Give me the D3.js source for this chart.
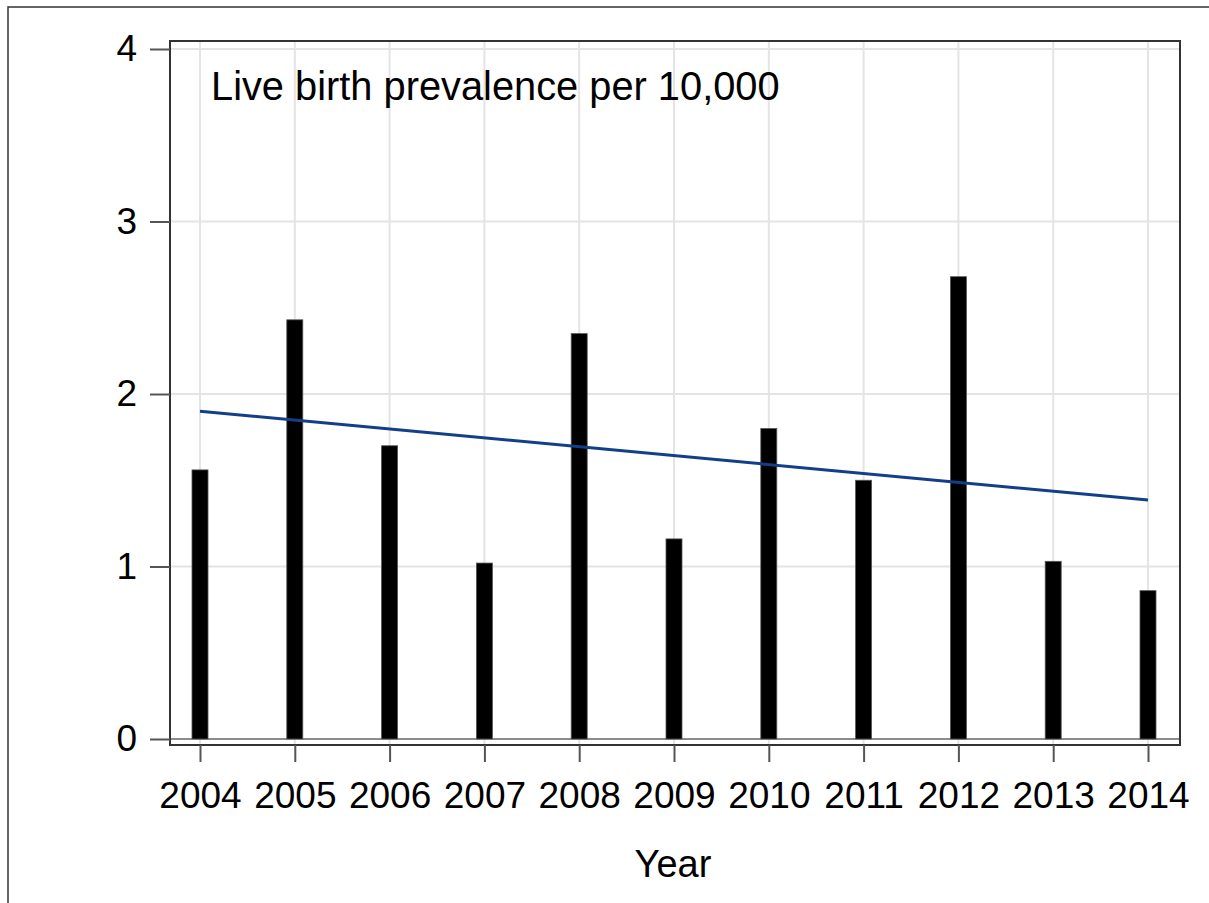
<!DOCTYPE html>
<html>
<head>
    <meta charset="utf-8">
    <title>Live birth prevalence per 10,000</title>
    <style type="text/css">
        body { margin: 0; background: #fff; }
        text { font-family: "Liberation Sans", Arial, sans-serif; fill: #000; }
        .grid line { stroke: #e4e4e4; stroke-width: 2; }
    </style>
</head>
<body>
<svg id="chart" width="1209" height="903"></svg>

<script src="https://cdn.jsdelivr.net/npm/d3@7"></script>
<script type="text/javascript">
    // data
    var years = [2004, 2005, 2006, 2007, 2008, 2009, 2010, 2011, 2012, 2013, 2014];
    var prevalence = [1.56, 2.43, 1.70, 1.02, 2.35, 1.16, 1.80, 1.50, 2.68, 1.03, 0.86];
    var trendYears = [2004, 2014];
    var trendValues = [1.90, 1.385];
    var yTicks = [0, 1, 2, 3, 4];

    var svg = d3.select('#chart');

    // plot frame (window.top is reserved, so own names)
    var plotL = 170, plotR = 1180, plotT = 41, plotB = 745;

    var x = d3.scaleLinear().domain([2004, 2014]).range([200, 1148]);
    var y = d3.scaleLinear().domain([0, 4]).range([739, 49]);

    // outer border of the figure
    svg.append('rect')
        .attr('x', 8).attr('y', 7)
        .attr('width', 1260).attr('height', 960)
        .attr('fill', 'none')
        .attr('stroke', '#333')
        .attr('stroke-width', 1.5);

    // grid lines
    var grid = svg.append('g').attr('class', 'grid');
    grid.selectAll('line.v')
        .data(years)
        .enter().append('line')
        .attr('class', 'v')
        .attr('x1', function (d) { return x(d); })
        .attr('x2', function (d) { return x(d); })
        .attr('y1', plotT).attr('y2', plotB);
    grid.selectAll('line.h')
        .data(yTicks.slice(1))
        .enter().append('line')
        .attr('class', 'h')
        .attr('x1', plotL).attr('x2', plotR)
        .attr('y1', function (d) { return y(d); })
        .attr('y2', function (d) { return y(d); });

    // zero reference line
    svg.append('line')
        .attr('x1', plotL).attr('x2', plotR)
        .attr('y1', y(0)).attr('y2', y(0))
        .attr('stroke', '#666')
        .attr('stroke-width', 1.5);

    // bars
    var barW = 16;
    svg.selectAll('rect.bar')
        .data(years)
        .enter().append('rect')
        .attr('class', 'bar')
        .attr('x', function (d) { return x(d) - barW / 2; })
        .attr('y', function (d, i) { return y(prevalence[i]); })
        .attr('width', barW)
        .attr('height', function (d, i) { return y(0) - y(prevalence[i]); })
        .attr('fill', '#000')
        .attr('stroke', '#555')
        .attr('stroke-width', 0.8);

    // linear trend
    var line = d3.line()
        .x(function (d) { return x(d); })
        .y(function (d, i) { return y(trendValues[i]); });
    svg.append('path')
        .datum(trendYears)
        .attr('d', line)
        .attr('fill', 'none')
        .attr('stroke', '#133e88')
        .attr('stroke-width', 3);

    // frame
    svg.append('rect')
        .attr('x', plotL).attr('y', plotT)
        .attr('width', plotR - plotL).attr('height', plotB - plotT)
        .attr('fill', 'none')
        .attr('stroke', '#333')
        .attr('stroke-width', 2);

    // y axis
    var yAxis = svg.append('g')
        .attr('transform', 'translate(' + plotL + ',0)')
        .call(d3.axisLeft(y).tickValues(yTicks).tickSize(20).tickPadding(13).tickFormat(d3.format('d')));
    yAxis.select('.domain').remove();
    yAxis.selectAll('line').attr('stroke', '#555').attr('stroke-width', 2);
    yAxis.selectAll('text').style('font-size', '37px').attr('fill', '#000')
        .style('font-family', '"Liberation Sans", Arial, sans-serif');

    // x axis
    var xAxis = svg.append('g')
        .attr('transform', 'translate(0,' + plotB + ')')
        .call(d3.axisBottom(x).tickValues(years).tickSize(17).tickPadding(20).tickFormat(d3.format('d')));
    xAxis.select('.domain').remove();
    xAxis.selectAll('line').attr('stroke', '#555').attr('stroke-width', 2);
    xAxis.selectAll('text').style('font-size', '37px').attr('fill', '#000')
        .style('font-family', '"Liberation Sans", Arial, sans-serif');

    // axis title
    svg.append('text')
        .attr('x', 673).attr('y', 877)
        .attr('text-anchor', 'middle')
        .style('font-size', '38px')
        .text('Year');

    // inset label
    svg.append('text')
        .attr('x', 211).attr('y', 100)
        .style('font-size', '39.8px')
        .text('Live birth prevalence per 10,000');
</script>
</body>
</html>
